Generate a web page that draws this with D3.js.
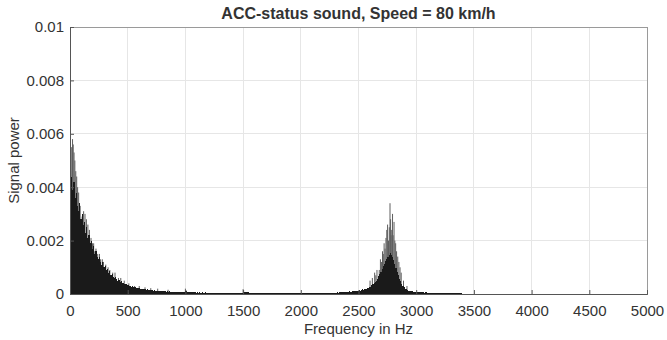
<!DOCTYPE html>
<html>
<head>
<meta charset="utf-8">
<script src="https://cdn.jsdelivr.net/npm/d3@7"></script>
<style>
  body { margin: 0; background: #fff; }
  text { font-family: "Liberation Sans", Arial, sans-serif; fill: #333; }
</style>
</head>
<body>
<div id="chart"></div>
<script>
// axis ticks
const xTicks = [0, 500, 1000, 1500, 2000, 2500, 3000, 3500, 4000, 4500, 5000];
const yTicks = [0, 0.002, 0.004, 0.006, 0.008, 0.01];

// spectrum body in segments (start Hz, bin width Hz, power)
const lowStart = 0, lowStep = 10;
const lowPower = [
  0.0041, 0.0044, 0.0039, 0.0042, 0.0036, 0.0038, 0.0033, 0.0031, 0.0034, 0.0028,
  0.0030, 0.0026, 0.0027, 0.0023, 0.0025, 0.0021, 0.0022, 0.0019, 0.0020, 0.0017,
  0.0018, 0.0015, 0.0016, 0.0014, 0.0013, 0.0014, 0.0012, 0.0011, 0.0012, 0.0010,
  0.00105, 0.0009, 0.00095, 0.0008, 0.00085, 0.0007, 0.00075, 0.00065, 0.0006, 0.00062,
  0.00055, 0.0005, 0.00052, 0.00045, 0.00048, 0.0004, 0.00042, 0.00036, 0.00038, 0.00033,
  0.00034, 0.0003, 0.00031, 0.00027, 0.00029, 0.00025, 0.00026, 0.00023, 0.00024, 0.00021,
  0.00022, 0.0002, 0.00019, 0.00018, 0.0002, 0.00017, 0.00016, 0.00017, 0.00015, 0.00016,
  0.00014, 0.00015, 0.00013, 0.00014, 0.00012, 0.00013, 0.00012, 0.00011, 0.00012, 0.0001,
  0.00011, 0.0001, 0.00011, 0.00009, 0.0001, 0.00009, 0.0001, 0.00008, 0.00009, 0.00008,
  0.00009, 0.00008, 0.00008, 0.00007, 0.00009, 0.00007, 0.00008, 0.00007, 0.00007, 0.00008,
  0.00012, 0.00007, 0.00006, 0.00007, 0.00006, 0.00007, 0.00006, 0.00006, 0.00007, 0.00005,
  0.00006, 0.00005, 0.00006, 0.00005, 0.00006, 0.00005, 0.00005, 0.00006, 0.00005, 0.00005,
  0.00005, 0.00004, 0.00005, 0.00005, 0.00004, 0.00005, 0.00004, 0.00005, 0.00004, 0.00004,
  0.00005, 0.00004, 0.00004, 0.00005, 0.00004, 0.00004, 0.00004, 0.00005, 0.00004, 0.00004,
  0.00004, 0.00004, 0.00003, 0.00004, 0.00004, 0.00003, 0.00004, 0.00003, 0.00004, 0.00004
];
const midStart = 1500, midStep = 50;
const midPower = [
  0.00006, 0.00004, 0.00004, 0.00003, 0.00004, 0.00003, 0.00003, 0.00004,
  0.00003, 0.00003, 0.00004, 0.00003, 0.00004, 0.00004, 0.00005, 0.00005
];
const peakStart = 2300, peakStep = 10;
const peakPower = [
  0.00005, 0.00006, 0.00005, 0.00006, 0.00007, 0.00006, 0.00007, 0.00008, 0.00007, 0.00008,
  0.00009, 0.00008, 0.0001, 0.00009, 0.00011, 0.0001, 0.00012, 0.00011, 0.00013, 0.00012,
  0.00014, 0.00013, 0.00016, 0.00017, 0.00016, 0.0002, 0.00019, 0.00023, 0.00022, 0.00026,
  0.00028, 0.00032, 0.00036, 0.0004, 0.00046, 0.0005, 0.00058, 0.00066, 0.00074, 0.00084,
  0.00092, 0.00104, 0.00112, 0.00124, 0.0013, 0.0014, 0.00146, 0.00152, 0.00146, 0.00138,
  0.00126, 0.00112, 0.00098, 0.00084, 0.0007, 0.00058, 0.00047, 0.00038, 0.00031, 0.00025,
  0.0002, 0.00017, 0.00015, 0.00013, 0.00012, 0.00011, 0.0001, 0.00009, 0.00008, 0.00008,
  0.00009, 0.00007, 0.00007, 0.00006, 0.00007, 0.00006, 0.00006, 0.00005, 0.00006, 0.00005,
  0.00005, 0.00005, 0.00004, 0.00005, 0.00004, 0.00004, 0.00005, 0.00004, 0.00004, 0.00004,
  0.00004, 0.00003, 0.00004, 0.00004, 0.00003, 0.00004, 0.00003, 0.00003, 0.00004, 0.00003,
  0.00003, 0.00003, 0.00004, 0.00003, 0.00003, 0.00002, 0.00003, 0.00002, 0.00002, 0.00002
];
const tailStart = 3400, tailStep = 50;
const tailPower = [
  0.00001, 0.00001, 0.00001, 0.00001, 0.00001, 0.00001, 0.00001, 0.00001,
  0.00001, 0.00001, 0.00001, 0.00001, 0.00001, 0.00001, 0.00001, 0.00001,
  0.00001, 0.00001, 0.00001, 0.00001, 0.00001, 0.00001, 0.00001, 0.00001,
  0.00001, 0.00001, 0.00001, 0.00001, 0.00001, 0.00001, 0.00001, 0.00001
];

// single thin peaks sticking out of the body
const spikeHz = [5, 15, 22, 28, 35, 42, 50, 58, 66, 75, 88, 105, 118, 130, 142, 155, 168, 182, 195,
  205, 215, 225, 240, 255, 265, 280, 290, 310, 330, 345, 370, 390, 420, 440, 470, 510, 560, 600,
  650, 700, 760, 850, 1000, 1500,
  2600, 2620, 2640, 2650, 2660, 2680, 2690, 2700, 2708, 2715, 2722, 2730, 2738, 2745, 2752, 2760,
  2767, 2773, 2778, 2782, 2788, 2795, 2800, 2808, 2815, 2822, 2830, 2840, 2850, 2860, 2870, 2890, 2920];
const spikePower = [0.0046, 0.0055, 0.0058, 0.0056, 0.0053, 0.0050, 0.0046, 0.0044, 0.0040, 0.0038,
  0.0033, 0.0029, 0.0031, 0.0030, 0.0028, 0.0026, 0.0024, 0.0021, 0.0019,
  0.0019, 0.0016, 0.0017, 0.0015, 0.0015, 0.0013, 0.0013, 0.0012, 0.0011, 0.0010, 0.0009, 0.0008,
  0.0008, 0.0006, 0.0006, 0.0005, 0.0004, 0.0003, 0.0003,
  0.00025, 0.00022, 0.0002, 0.00016, 0.0002, 0.00018,
  0.0005, 0.0006, 0.0008, 0.0007, 0.0009, 0.0009, 0.0013, 0.0012, 0.0016, 0.0015, 0.0019, 0.0017,
  0.0021, 0.0024, 0.0026, 0.0020, 0.0025, 0.0034, 0.0028, 0.0022, 0.0024, 0.0030, 0.0022, 0.0027,
  0.0020, 0.0019, 0.0016, 0.0014, 0.0012, 0.0010, 0.0008, 0.0005, 0.0003];

const width = 667, height = 340;
const margin = {top: 27, right: 20, bottom: 46, left: 70};
const plotW = width - margin.left - margin.right;
const plotH = height - margin.top - margin.bottom;

const svg = d3.select("#chart").append("svg")
  .attr("width", width)
  .attr("height", height);

const g = svg.append("g")
  .attr("transform", `translate(${margin.left},${margin.top})`);

const x = d3.scaleLinear().domain([0, 5000]).range([0, plotW]);
const y = d3.scaleLinear().domain([0, 0.01]).range([plotH, 0]);

// grid
g.append("g").selectAll("line").data(xTicks).join("line")
  .attr("x1", d => x(d)).attr("x2", d => x(d))
  .attr("y1", 0).attr("y2", plotH)
  .attr("stroke", "#e6e6e6").attr("shape-rendering", "crispEdges");
g.append("g").selectAll("line").data(yTicks).join("line")
  .attr("x1", 0).attr("x2", plotW)
  .attr("y1", d => y(d)).attr("y2", d => y(d))
  .attr("stroke", "#e6e6e6").attr("shape-rendering", "crispEdges");

// build bins from the segments
const segments = [
  [lowStart, lowStep, lowPower],
  [midStart, midStep, midPower],
  [peakStart, peakStep, peakPower],
  [tailStart, tailStep, tailPower]
];
const bins = [];
segments.forEach(([start, step, vals]) => {
  vals.forEach((v, i) => bins.push({f0: start + i * step, f1: start + (i + 1) * step, p: v}));
});
const spikes = spikeHz.map((f, i) => ({f: f, p: spikePower[i]}));

// thin spikes (grey)
g.append("g").selectAll("line").data(spikes).join("line")
  .attr("x1", d => x(d.f)).attr("x2", d => x(d.f))
  .attr("y1", plotH).attr("y2", d => y(d.p))
  .attr("stroke", "#5e5e5e").attr("stroke-width", 1);

// dense body (black)
g.append("g").selectAll("rect").data(bins).join("rect")
  .attr("x", d => x(d.f0))
  .attr("width", d => x(d.f1) - x(d.f0))
  .attr("y", d => y(d.p))
  .attr("height", d => plotH - y(d.p))
  .attr("fill", "#1a1a1a")
  .attr("shape-rendering", "crispEdges");

// box
g.append("rect")
  .attr("width", plotW).attr("height", plotH)
  .attr("fill", "none").attr("stroke", "#9a9a9a")
  .attr("shape-rendering", "crispEdges");

// axes (ticks inward)
const xAxis = d3.axisBottom(x).tickValues(xTicks).tickSize(-4).tickPadding(11).tickFormat(d3.format("d"));
const yAxis = d3.axisLeft(y).tickValues(yTicks).tickSize(-4).tickPadding(6).tickFormat(d => d === 0 ? "0" : String(+d.toFixed(3)));

const gx = g.append("g").attr("transform", `translate(0,${plotH})`).call(xAxis);
const gy = g.append("g").call(yAxis);
[gx, gy].forEach(a => {
  a.select(".domain").attr("stroke", "#555");
  a.selectAll(".tick line").attr("stroke", "#555");
  a.selectAll(".tick text").style("font-size", "15px").attr("fill", "#333");
});

// labels
svg.append("text")
  .attr("x", margin.left + plotW / 2).attr("y", 19)
  .attr("text-anchor", "middle")
  .style("font-size", "16px").style("font-weight", "bold").attr("fill", "#111")
  .text("ACC-status sound, Speed = 80 km/h");

svg.append("text")
  .attr("x", margin.left + plotW / 2).attr("y", 334)
  .attr("text-anchor", "middle")
  .style("font-size", "15px")
  .text("Frequency in Hz");

svg.append("text")
  .attr("transform", `translate(19,${margin.top + plotH / 2}) rotate(-90)`)
  .attr("text-anchor", "middle")
  .style("font-size", "15px")
  .text("Signal power");
</script>
</body>
</html>
